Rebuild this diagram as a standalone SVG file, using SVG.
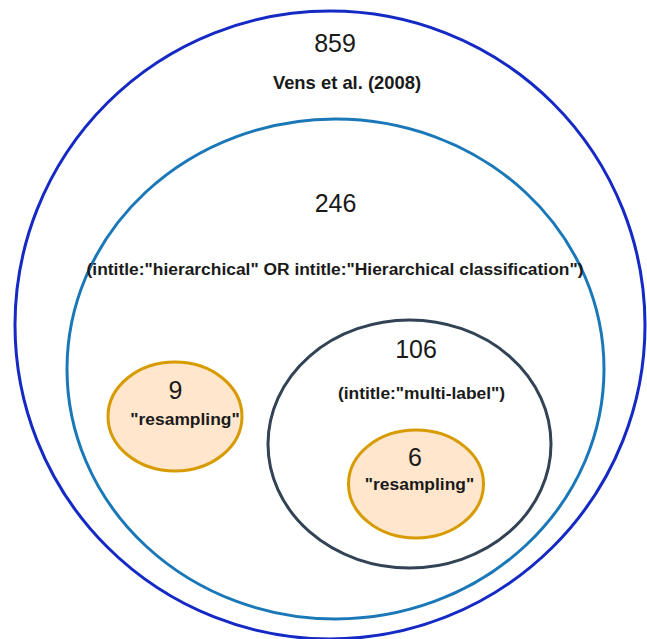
<svg xmlns="http://www.w3.org/2000/svg" width="647" height="639" viewBox="0 0 647 639">
<style>
.num{font-family:"Liberation Sans",Arial,sans-serif;font-size:25px;fill:#1a1a1a;text-anchor:middle}
.lbl{font-family:"Liberation Sans",Arial,sans-serif;font-size:17.4px;font-weight:bold;fill:#1a1a1a;text-anchor:middle}
.ring{fill:none;stroke-width:3}
.orange{fill:#ffe6cc;stroke:#d79b00;stroke-width:3}
</style>
<rect width="647" height="639" fill="#ffffff"/>
<g id="outer">
<ellipse class="ring" cx="330" cy="325" rx="315" ry="314" stroke="#1529c4"/>
<text class="num" x="335" y="52">859</text>
<text class="lbl" x="347" y="89" style="font-size:18.4px">Vens et al. (2008)</text>
</g>
<g id="hierarchical">
<ellipse class="ring" cx="335.5" cy="369" rx="268.5" ry="250" stroke="#1a78b8"/>
<text class="num" x="335.5" y="212">246</text>
<text class="lbl" x="335" y="275">(intitle:"hierarchical" OR intitle:"Hierarchical classification")</text>
</g>
<g id="multilabel">
<ellipse class="ring" cx="409.5" cy="444" rx="141.5" ry="124" stroke="#314354"/>
<text class="num" x="416" y="358">106</text>
<text class="lbl" x="421.5" y="398.5">(intitle:"multi-label")</text>
</g>
<g id="resampling-left">
<ellipse class="orange" cx="175" cy="416.5" rx="67" ry="54.5"/>
<text class="num" x="175.5" y="399">9</text>
<text class="lbl" x="185" y="425">"resampling"</text>
</g>
<g id="resampling-right">
<ellipse class="orange" cx="416" cy="484" rx="67.5" ry="54"/>
<text class="num" x="415" y="466">6</text>
<text class="lbl" x="419.5" y="489.5">"resampling"</text>
</g>
<g id="connectors"/>
</svg>
